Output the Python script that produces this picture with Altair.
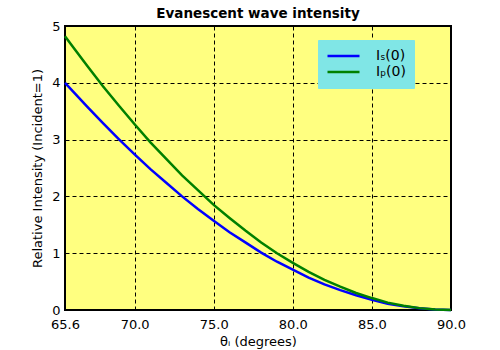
import altair as alt
import pandas as pd

theta = [65.6, 66, 67, 68, 69, 70, 71, 72, 73, 74, 75, 76, 77, 78, 79,
         80, 81, 82, 83, 84, 85, 86, 87, 88, 89, 90]
i_s = [4.00, 3.88, 3.58, 3.29, 3.01, 2.74, 2.48, 2.24, 2.00, 1.78, 1.57,
       1.37, 1.19, 1.01, 0.85, 0.71, 0.57, 0.45, 0.35, 0.26, 0.18, 0.11,
       0.064, 0.029, 0.007, 0.0]
i_p = [4.82, 4.67, 4.30, 3.94, 3.60, 3.27, 2.95, 2.66, 2.37, 2.11, 1.85,
       1.62, 1.40, 1.19, 1.00, 0.83, 0.67, 0.53, 0.41, 0.30, 0.21, 0.13,
       0.075, 0.033, 0.008, 0.0]
series_names = ["I\u209b(0)", "I\u209a(0)"]
series_colors = ["#0000FF", "#008000"]
x_ticks = [65.6, 70.0, 75.0, 80.0, 85.0, 90.0]
y_ticks = [0, 1, 2, 3, 4, 5]

rows = []
for t, a, b in zip(theta, i_s, i_p):
    rows.append({"theta": t, "value": a, "series": series_names[0]})
    rows.append({"theta": t, "value": b, "series": series_names[1]})
df = pd.DataFrame(rows)

FONT = "DejaVu Sans"

x_enc = alt.X("theta:Q",
              scale=alt.Scale(domain=[65.6, 90], nice=False, zero=False),
              axis=alt.Axis(values=x_ticks, format=".1f",
                            title="\u03b8\u1d62 (degrees)"))
y_enc = alt.Y("value:Q",
              scale=alt.Scale(domain=[0, 5], nice=False),
              axis=alt.Axis(values=y_ticks, format="d",
                            title="Relative Intensity (Incident=1)"))
color_enc = alt.Color("series:N",
                      scale=alt.Scale(domain=series_names, range=series_colors),
                      legend=alt.Legend(title=None, orient="none",
                                        legendX=253, legendY=14))

base = alt.Chart(df).mark_line(strokeWidth=2.5).encode(x=x_enc, y=y_enc, color=color_enc)
blue = base.transform_filter(alt.datum.series == series_names[0])
green = base.transform_filter(alt.datum.series == series_names[1])

chart = alt.layer(blue, green).properties(
    width=386, height=284,
    autosize=alt.AutoSizeParams(type="none"),
    padding={"left": 65, "top": 26, "right": 49, "bottom": 40},
    background="white",
    title=alt.TitleParams("Evanescent wave intensity", font=FONT, fontSize=13.5,
                          fontWeight="bold", color="black", anchor="middle",
                          baseline="alphabetic", offset=-11, frame="group"),
).configure_view(
    fill="#FFFF80", stroke="black", strokeWidth=2
).configure_axis(
    labelFont=FONT, titleFont=FONT, labelFontSize=13, titleFontSize=13,
    labelColor="black", titleColor="black", titleFontWeight="normal",
    grid=True, gridColor="black", gridDash=[4, 3], gridWidth=1, gridOpacity=1,
    ticks=False, domain=False, labelPadding=5, labelFlush=False,
).configure_axisX(
    titlePadding=4, labelPadding=8
).configure_axisY(
    titlePadding=7, labelPadding=5
).configure_legend(
    fillColor="#80E6E6", strokeColor="#80E6E6", padding=8,
    symbolType="stroke", symbolSize=1024, symbolStrokeWidth=2.5,
    clipHeight=16, rowPadding=0, labelOffset=15,
    labelFont=FONT, labelFontSize=14, labelColor="black",
)

chart.save("out.html", embed_options={"renderer": "svg", "actions": False})
